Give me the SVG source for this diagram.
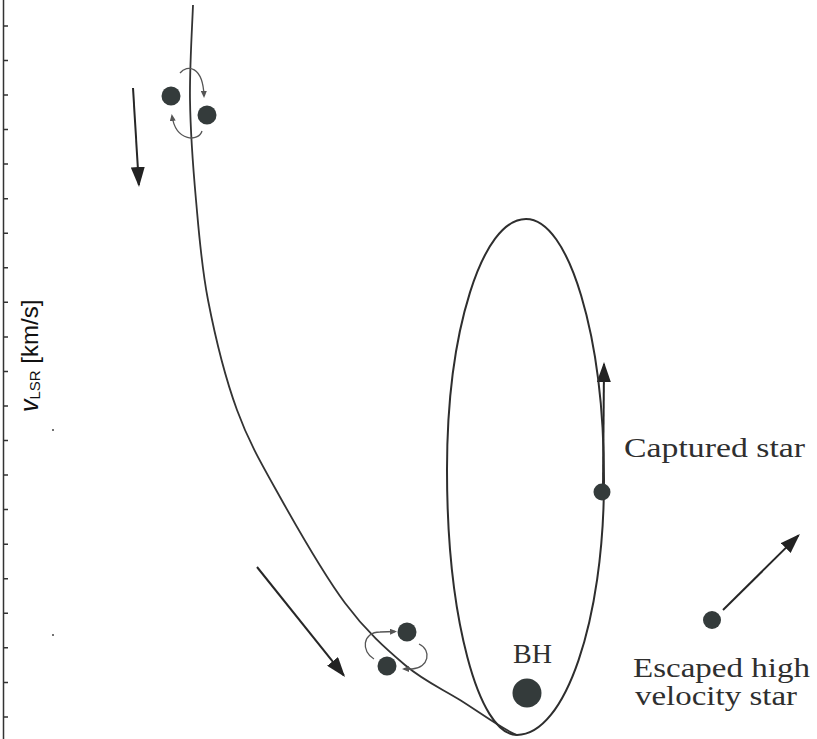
<svg xmlns="http://www.w3.org/2000/svg" width="817" height="739" viewBox="0 0 817 739">
<style>
.curve{fill:none;stroke:#333;stroke-width:1.8}
.orbit{fill:none;stroke:#2e2e2e;stroke-width:2}
.arrow{fill:none;stroke:#262626;stroke-width:2}
.spin{fill:none;stroke:#555;stroke-width:1.3}
.star{fill:#343b3b}
.lbl{font-family:"Liberation Serif","Times New Roman",serif;font-size:28px;fill:#2f2f2f}
.axis{fill:none;stroke:#333;stroke-width:1.5}
</style>
<defs>
<marker id="ah" markerUnits="userSpaceOnUse" markerWidth="20" markerHeight="14" refX="18" refY="7" orient="auto"><path d="M0,0 L20,7 L0,14 z" fill="#222"/></marker>
<marker id="sh" markerUnits="userSpaceOnUse" markerWidth="7" markerHeight="6" refX="5" refY="3" orient="auto"><path d="M0,0 L7,3 L0,6 z" fill="#555"/></marker>
</defs>
<rect width="817" height="739" fill="#fff"/>
<g id="axis">
<path class="axis" d="M3.5,0V739"/>
<path class="axis" stroke-width="1.2" d="M3,25.9h5M3,60.5h5M3,95h5M3,129.6h5M3,164.1h5M3,198.7h5M3,233.2h5M3,267.8h5M3,302.3h5M3,336.9h5M3,371.4h5M3,406h5M3,440.5h5M3,475.1h5M3,509.6h5M3,544.2h5M3,578.7h5M3,613.3h5M3,647.8h5M3,682.4h5M3,716.9h5"/>
<g transform="translate(38,412) rotate(-90)">
<text x="0" y="0" font-family="'Liberation Sans',Arial,sans-serif" fill="#111"><tspan font-size="25" font-style="italic">v</tspan><tspan font-size="15" dy="2">LSR</tspan><tspan font-size="24" dy="-2"> [km/s]</tspan></text>
</g>
<circle cx="53" cy="430" r="1" fill="#444"/>
<circle cx="53" cy="635" r="1" fill="#444"/>
</g>
<g id="connectors">
<path class="curve" d="M193,5 C192.5,20.8 189.5,67.5 190,100 C190.5,132.5 193,166.7 196,200 C199,233.3 201.2,265 208,300 C214.8,335 225,377.2 237,410 C249,442.8 262,464.8 280,497 C298,529.2 324.2,575 345,603 C365.8,631 385.8,648.8 405,665 C424.2,681.2 441.2,688.3 460,700 C478.8,711.7 505,731 517,735"/>
<path class="arrow" marker-end="url(#ah)" d="M133,88 L138.9,185"/>
<path class="arrow" marker-end="url(#ah)" d="M257,567 L343.8,675.4"/>
<path class="arrow" marker-end="url(#ah)" d="M603,492 L604,364"/>
<path class="arrow" marker-end="url(#ah)" d="M723,610 L798.5,535.4"/>
</g>
<g id="bh-orbit">
<path class="orbit" d="M526,219 C569,219 604,336 604,480 C604,621 565,735 517,735 C478,735 447,616 447,470 C447,331 482,219 526,219 Z"/>
</g>
<g id="binary-top">
<circle class="star" cx="171" cy="96" r="9.5"/>
<circle class="star" cx="207" cy="115" r="9.5"/>
<path class="spin" marker-end="url(#sh)" d="M180,73 C187,64 203,66 204,96"/>
<path class="spin" marker-end="url(#sh)" d="M202,131 C199,142 176,142 172,116"/>
</g>
<g id="binary-bottom">
<circle class="star" cx="407" cy="632" r="9.5"/>
<circle class="star" cx="387" cy="666" r="9.5"/>
<path class="spin" marker-end="url(#sh)" d="M374,659 C361,652 362,632 380,632 L395,631.5"/>
<path class="spin" marker-end="url(#sh)" d="M419,644 C432,650 429,668 412,669 L404,669"/>
</g>
<g id="bh">
<circle class="star" cx="527" cy="693" r="14.5"/>
<text class="lbl" x="513" y="663" textLength="39" lengthAdjust="spacingAndGlyphs">BH</text>
</g>
<g id="captured-star">
<circle class="star" cx="602" cy="492" r="8.5"/>
<text class="lbl" x="624" y="457" textLength="181" lengthAdjust="spacingAndGlyphs">Captured star</text>
</g>
<g id="escaped-star">
<circle class="star" cx="712" cy="620" r="9"/>
<text class="lbl" x="633" y="677" textLength="177" lengthAdjust="spacingAndGlyphs">Escaped high</text>
<text class="lbl" x="635" y="705" textLength="162" lengthAdjust="spacingAndGlyphs">velocity star</text>
</g>
</svg>
